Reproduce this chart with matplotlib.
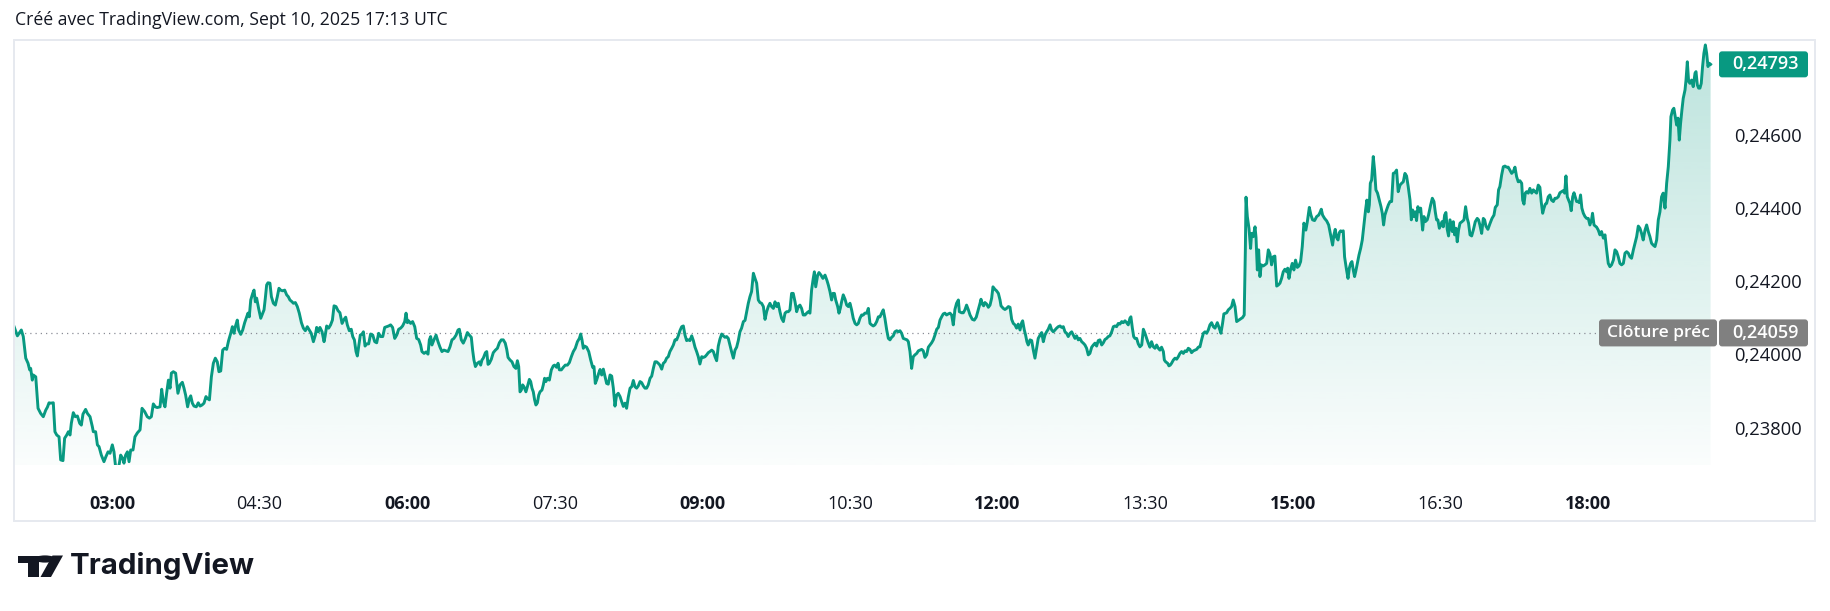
import numpy as np
import matplotlib
matplotlib.use("Agg")
import matplotlib.pyplot as plt
from matplotlib.patches import Rectangle, Polygon, Circle, FancyBboxPatch
from matplotlib.transforms import IdentityTransform
from matplotlib.ticker import FuncFormatter
from matplotlib.colors import to_rgb

plt.rcParams['font.family'] = ['Open Sans', 'DejaVu Sans']

# ---------------- data ----------------
title = "Créé avec TradingView.com, Sept 10, 2025 17:13 UTC"
session_start = "02:00"          # local time of the first bar
prev_close = 0.24059
last_price = 0.24793

# minutes elapsed since session start
minutes = [
 0.3, 2.3, 4.7, 5.9, 7.4, 8.8, 9.8, 10.4, 11.4, 12.0, 13.5, 14.9, 16.5, 18.1, 19.6, 20.6, 21.6, 22.6, 24.2, 25.2,
 26.3, 27.7, 28.7, 30.1, 31.1, 32.4, 33.4, 34.4, 35.2, 36.4, 37.6, 38.9, 40.3, 41.3, 42.3, 43.9, 45.0, 46.6, 48.0, 48.6,
 50.0, 51.1, 52.1, 53.5, 55.1, 56.3, 57.6, 58.8, 60.2, 61.2, 62.2, 63.3, 64.5, 65.3, 66.5, 67.3, 68.3, 69.4, 70.4, 71.4,
 72.8, 74.0, 75.5, 77.1, 78.3, 79.9, 81.5, 82.8, 84.0, 85.2, 86.4, 87.6, 89.3, 90.3, 91.3, 92.3, 93.3, 94.4, 95.4, 96.2,
 97.4, 98.8, 100.2, 101.5, 102.9, 103.9, 104.9, 106.1, 107.2, 108.0, 109.0, 110.0, 111.4, 112.6, 113.7, 114.9, 116.1, 117.3, 118.1, 119.4,
 120.6, 121.8, 123.0, 124.2, 125.2, 126.3, 127.5, 128.7, 129.9, 131.1, 132.4, 133.4, 134.4, 135.2, 136.4, 137.2, 138.5, 139.7, 140.9, 142.1,
 142.9, 143.7, 144.6, 145.8, 146.6, 147.4, 148.2, 149.4, 150.7, 151.9, 152.7, 153.5, 154.3, 155.1, 156.3, 157.2, 158.4, 159.6, 160.8, 161.8,
 162.8, 164.1, 165.3, 166.5, 167.5, 168.5, 169.8, 170.6, 171.8, 173.0, 174.2, 175.5, 176.7, 177.9, 179.1, 180.3, 181.5, 182.8,
 184.0, 184.8, 185.8, 186.8, 188.1, 189.3, 189.9, 190.9, 192.1, 193.3, 194.4, 195.4, 196.6, 197.8, 199.0, 200.3, 201.5, 202.5, 203.5, 204.7,
 205.9, 206.8, 207.8, 208.8, 209.6, 210.4, 211.4, 212.5, 213.3, 214.3, 215.3, 216.5, 217.7, 219.0, 220.2, 221.4, 222.6, 223.8, 225.1, 226.3,
 227.5, 228.7, 229.9, 231.1, 232.4, 233.6, 234.8, 236.0, 237.2, 238.5, 239.3, 240.1, 240.9, 242.1, 243.3, 244.6, 245.8, 247.0, 248.2, 249.0,
 250.3, 251.5, 252.7, 253.5, 254.3, 255.1, 256.4, 257.6, 258.8, 260.0, 261.2, 262.4, 263.7, 264.9, 266.1, 267.3, 268.5, 269.8, 271.0, 271.8,
 273.0, 274.2, 275.5, 276.7, 277.9, 279.1, 279.9, 280.7, 281.6, 282.8, 284.0, 284.8, 285.6, 286.4, 287.7, 288.5, 289.3, 290.1, 291.3, 292.5,
 293.8, 295.0, 296.2, 297.4, 298.6, 299.8, 300.7, 301.5, 302.7, 303.9, 305.1, 306.3, 307.2, 308.0, 308.8, 309.6, 310.4, 311.2, 312.4, 313.3,
 314.5, 315.3, 316.1, 316.9, 317.7, 318.5, 319.4, 320.2, 321.0, 322.2, 323.0, 323.8, 324.6, 325.5, 326.7, 327.9, 329.1, 329.9, 331.1, 332.0,
 332.8, 334.0, 335.2, 336.4, 337.7, 338.9, 340.1, 341.3, 342.5, 343.8, 345.0, 345.8, 346.6, 347.4, 348.2, 349.4, 350.7, 351.9, 353.1, 353.9,
 354.7, 355.5, 356.8, 357.6,
 358.6, 359.6, 360.6, 361.6, 362.6, 363.7, 364.7, 365.7, 366.7, 367.7, 368.7, 369.8, 370.8, 371.8, 372.8, 373.8, 374.8, 375.9, 376.9, 377.9,
 378.9, 379.9, 380.9, 382.0, 383.0, 384.0, 385.0, 386.0, 387.0, 388.1, 389.1, 390.1, 391.1, 392.1, 393.1, 394.1, 395.2, 396.2, 397.2, 398.2,
 399.2, 400.2, 401.3, 402.3, 403.3, 404.3, 405.3, 406.3, 407.4, 408.4, 409.4, 410.4, 411.4, 412.4, 413.5, 414.5, 415.5, 416.5, 417.5, 418.5,
 419.6, 420.6, 421.6, 422.6, 423.6, 424.6, 425.7, 426.7, 427.7, 428.7, 429.7, 430.7, 431.8, 432.8, 433.8, 434.8, 435.8, 436.8, 437.8, 438.9,
 439.9, 440.9, 441.9, 442.9, 443.9, 445.0, 446.0, 447.0, 448.0, 449.0, 450.0, 451.1, 452.1, 453.1, 454.1, 455.1, 456.1, 457.2, 458.2, 459.2,
 460.2, 461.2, 462.2, 463.3, 464.3, 465.3, 466.3, 467.3, 468.3, 469.4, 470.4, 471.4, 472.4, 473.4, 474.4, 475.4, 476.5, 477.5, 478.5, 479.5,
 480.5, 481.5, 482.6, 483.6, 484.6, 485.6, 486.6, 487.6, 488.3, 489.1, 490.3, 491.1, 492.3, 493.5, 494.8, 496.0, 496.8, 497.8, 498.8, 499.6,
 500.5, 501.3, 502.5, 503.3, 504.1, 504.9, 505.9, 507.0, 508.0, 509.0, 510.0, 511.0, 512.0, 513.1, 514.1, 515.1, 516.1, 517.1, 518.1, 519.1,
 520.2, 521.2, 522.2, 523.2, 524.2, 525.2, 526.3, 527.3, 528.3, 529.3, 530.3, 531.3, 532.4, 533.4, 534.4, 535.4, 536.4, 537.4, 538.5, 539.5,
 540.5, 541.5, 542.5,
 544.8, 545.6, 546.6, 547.6, 548.6, 549.6, 550.7, 551.7, 552.7, 553.7, 554.7, 555.7, 556.8, 557.8, 558.8, 559.8, 560.8, 561.8, 562.9, 563.9,
 564.9, 565.9, 566.9, 567.9, 568.9, 570.0, 571.0, 572.0, 573.0, 574.0, 575.0, 576.1, 576.7, 578.1, 579.1, 580.1, 581.1, 582.2, 583.2, 584.6,
 585.8, 587.0, 588.3, 589.3, 589.9, 590.7, 591.5, 592.3, 593.3, 594.4, 595.4, 596.4, 597.2, 598.4, 599.4, 600.5, 601.5, 602.1, 603.5, 604.5,
 605.5, 606.6, 607.6, 608.6, 609.6, 610.6, 611.6, 612.6, 613.7, 614.7, 615.3, 616.3, 617.1, 617.9, 618.7, 619.8, 620.8, 621.8, 622.8, 623.8,
 624.8, 625.9, 626.9, 627.9, 628.9, 629.9, 630.9, 632.0, 633.0, 634.0, 635.0, 636.0, 637.0, 638.1, 639.1, 640.1, 641.1, 642.1, 643.1, 644.2,
 645.2, 646.2, 647.2, 648.2, 649.2, 650.2, 651.3, 652.3, 653.3, 654.3, 655.3, 656.3, 657.4, 658.4, 659.4, 660.4, 661.4, 662.4, 663.5, 664.5,
 665.5, 666.5, 667.5, 668.5, 669.6, 670.6, 671.6, 672.6, 673.6, 674.6, 675.7, 676.7, 677.7, 678.7, 679.7, 680.7, 681.3, 682.2, 683.0, 683.8,
 684.8, 685.8, 686.8, 687.9, 688.9, 689.9, 690.9, 691.9, 692.9, 693.9, 695.0, 696.0, 697.0, 698.0, 699.0, 700.0, 701.1, 701.7, 702.5, 703.7,
 704.5, 705.3, 706.1, 707.2, 708.2, 709.2, 710.2, 711.2, 712.2, 713.3, 714.3, 715.3, 716.3, 717.3, 718.3, 719.4, 720.4, 721.4, 722.4, 723.4,
 724.4, 725.5, 726.5, 727.5, 728.5, 729.5, 730.5, 731.6, 732.6,
 734.0, 735.2, 736.2, 737.2, 738.0, 739.7, 740.7, 741.7, 742.7, 743.7, 744.8, 745.8, 746.8, 747.8, 749.4, 750.4, 751.1, 751.5, 752.3, 753.3,
 754.3, 754.9, 755.9, 757.0, 757.6, 758.4, 759.2, 760.0, 760.8, 762.0, 763.0, 764.1, 765.1, 766.1, 767.1, 768.1, 769.1, 770.2, 771.2, 772.2,
 773.2, 774.2, 775.2, 776.3, 776.9, 777.7, 778.7, 779.7, 780.7, 781.7, 782.8, 783.8, 784.8, 785.8, 786.8, 788.0, 788.9, 790.1, 791.1, 792.1,
 793.3, 794.6, 795.8, 796.6, 797.4, 798.2, 799.4, 800.7, 801.9, 803.1, 804.3, 805.1, 805.9, 806.7, 807.6, 808.4, 809.2, 810.0, 810.8, 811.6,
 812.8, 813.7, 814.5, 815.3, 816.1, 816.9, 817.7, 818.5, 819.4, 820.4, 821.4, 822.4, 823.4, 824.4, 825.2, 826.1, 826.7, 827.3, 828.1, 829.1,
 829.9, 830.7, 831.7, 832.8, 833.8, 834.6, 835.4, 836.2, 837.2, 838.3, 839.3, 840.3, 841.3, 842.3, 843.3, 844.3, 845.4, 846.4, 847.4, 848.4,
 849.4, 850.4, 851.5, 852.3, 853.1, 853.9, 854.7, 855.5, 856.3, 857.2, 858.0, 859.2, 860.0, 860.8, 862.0, 862.8, 864.1, 865.1, 866.1, 866.9,
 867.7, 868.5, 869.4, 870.2, 871.0, 871.8, 872.6, 873.4, 874.2, 875.0, 875.9, 876.7, 877.3, 877.9, 878.7, 879.5, 880.3, 881.1, 882.0, 883.2,
 884.4, 885.4, 886.4, 887.2, 888.1, 889.1, 890.1, 891.3, 892.5, 893.3, 894.1, 895.2, 896.2, 897.0, 897.8, 899.0, 900.2, 901.5, 902.7, 903.5,
 904.7, 905.5, 906.3, 907.4, 908.4, 909.4, 910.4, 911.4, 912.4, 913.5, 914.5, 915.5, 916.5, 917.5, 918.5, 919.6, 920.2, 921.0, 921.8, 922.6,
 923.6, 924.6, 925.7, 926.7, 927.7, 928.7, 929.7, 930.7, 931.5, 932.4, 933.2, 934.0, 934.8, 935.8, 936.8, 937.8, 938.9, 939.9, 940.9, 941.9,
 942.9, 943.9, 945.0, 945.8, 946.6, 947.4, 948.2, 949.0, 949.8, 950.7, 951.5, 952.3, 953.1, 953.9, 954.7, 955.5, 956.3, 957.2, 958.2, 959.2,
 960.2, 961.2, 962.2, 962.8, 963.7, 964.5, 965.3, 966.3, 967.3,
 968.3, 969.4, 970.4, 971.4, 972.4, 973.4, 974.4, 975.5, 976.5, 977.5, 978.5, 979.5, 980.5, 981.6, 982.6, 983.6, 984.6, 985.6, 986.6, 987.7,
 988.7, 989.7, 990.7, 991.7, 992.7, 993.7, 994.8, 995.8, 996.8, 997.8, 998.8, 999.8, 1000.9, 1001.9, 1002.9, 1003.9, 1004.9, 1005.9, 1007.0, 1008.0,
 1009.0, 1010.0, 1010.6, 1011.6, 1012.4, 1013.3, 1014.1, 1014.9, 1015.7, 1016.5, 1017.3, 1018.1, 1019.2, 1019.8, 1020.6, 1021.4, 1022.2, 1023.2, 1024.2, 1025.3,
 1025.9, 1026.7, 1027.5, 1028.3, 1029.1, 1029.9, 1030.7, 1031.6, 1032.4, 1033.2, 1034.0, 1034.8,
]

prices = [
 0.24076, 0.24051, 0.24067, 0.24049, 0.23990, 0.23976, 0.23958, 0.23962, 0.23930, 0.23944, 0.23939, 0.23853, 0.23839, 0.23830, 0.23848, 0.23856, 0.23868, 0.23867, 0.23868, 0.23789,
 0.23780, 0.23775, 0.23712, 0.23710, 0.23771, 0.23780, 0.23789, 0.23780, 0.23812, 0.23841, 0.23830, 0.23832, 0.23812, 0.23807, 0.23837, 0.23850, 0.23839, 0.23830, 0.23803, 0.23789,
 0.23789, 0.23753, 0.23748, 0.23725, 0.23707, 0.23721, 0.23734, 0.23730, 0.23753, 0.23734, 0.23693, 0.23680, 0.23703, 0.23725, 0.23716, 0.23703, 0.23725, 0.23734, 0.23707, 0.23739,
 0.23739, 0.23775, 0.23786, 0.23794, 0.23853, 0.23844, 0.23830, 0.23826, 0.23830, 0.23865, 0.23857, 0.23855, 0.23857, 0.23905, 0.23871, 0.23857, 0.23894, 0.23930, 0.23908, 0.23949,
 0.23953, 0.23949, 0.23894, 0.23917, 0.23924, 0.23908, 0.23889, 0.23857, 0.23880, 0.23887, 0.23867, 0.23859, 0.23857, 0.23868, 0.23859, 0.23862, 0.23867, 0.23885, 0.23880, 0.23876,
 0.23939, 0.23976, 0.23990, 0.23980, 0.23953, 0.23955, 0.24012, 0.24017, 0.24014, 0.24038, 0.24058, 0.24076, 0.24058, 0.24076, 0.24094, 0.24067, 0.24055, 0.24067, 0.24087, 0.24103,
 0.24113, 0.24103, 0.24149, 0.24167, 0.24176, 0.24144, 0.24154, 0.24126, 0.24099, 0.24113, 0.24122, 0.24154, 0.24190, 0.24196, 0.24195, 0.24158, 0.24140, 0.24135, 0.24158, 0.24181,
 0.24176, 0.24174, 0.24176, 0.24163, 0.24158, 0.24149, 0.24144, 0.24140, 0.24142, 0.24131, 0.24113, 0.24087, 0.24072, 0.24065, 0.24076, 0.24067, 0.24058, 0.24035,
 0.24053, 0.24074, 0.24062, 0.24074, 0.24062, 0.24035, 0.24049, 0.24078, 0.24072, 0.24081, 0.24094, 0.24133, 0.24131, 0.24120, 0.24114, 0.24085, 0.24096, 0.24102, 0.24081, 0.24065,
 0.24069, 0.24049, 0.24040, 0.24008, 0.23996, 0.24021, 0.24053, 0.24056, 0.24062, 0.24023, 0.24029, 0.24029, 0.24056, 0.24053, 0.24035, 0.24032, 0.24058, 0.24049, 0.24049, 0.24074,
 0.24076, 0.24078, 0.24081, 0.24074, 0.24044, 0.24053, 0.24069, 0.24072, 0.24078, 0.24090, 0.24113, 0.24087, 0.24092, 0.24085, 0.24090, 0.24076, 0.24044, 0.24041, 0.24026, 0.24008,
 0.24003, 0.24007, 0.24001, 0.24040, 0.24049, 0.24026, 0.24041, 0.24053, 0.24035, 0.24020, 0.24008, 0.24012, 0.24010, 0.24008, 0.24021, 0.24040, 0.24044, 0.24053, 0.24067, 0.24069,
 0.24040, 0.24031, 0.24044, 0.24060, 0.24053, 0.24047, 0.24012, 0.23985, 0.23967, 0.23976, 0.23980, 0.23971, 0.23985, 0.23990, 0.24005, 0.24008, 0.23973, 0.23976, 0.23987, 0.24005,
 0.24012, 0.24017, 0.24032, 0.24040, 0.24040, 0.24031, 0.24014, 0.23992, 0.23985, 0.23980, 0.23967, 0.23962, 0.23983, 0.23967, 0.23898, 0.23903, 0.23917, 0.23912, 0.23898, 0.23912,
 0.23932, 0.23926, 0.23908, 0.23898, 0.23876, 0.23862, 0.23868, 0.23889, 0.23898, 0.23903, 0.23917, 0.23935, 0.23926, 0.23935, 0.23930, 0.23958, 0.23969, 0.23971, 0.23965, 0.23976,
 0.23958, 0.23958, 0.23965, 0.23971, 0.23971, 0.23978, 0.23994, 0.24008, 0.24017, 0.24035, 0.24044, 0.24056, 0.24040, 0.24017, 0.24023, 0.24020, 0.24008, 0.23985, 0.23965, 0.23967,
 0.23921, 0.23930, 0.23949, 0.23959,
 0.23944, 0.23960, 0.23941, 0.23921, 0.23919, 0.23944, 0.23941, 0.23908, 0.23859, 0.23889, 0.23894, 0.23885, 0.23871, 0.23858, 0.23867, 0.23853, 0.23883, 0.23908, 0.23912, 0.23929,
 0.23912, 0.23908, 0.23914, 0.23926, 0.23923, 0.23914, 0.23908, 0.23908, 0.23917, 0.23935, 0.23941, 0.23962, 0.23980, 0.23980, 0.23976, 0.23971, 0.23960, 0.23976, 0.23980, 0.23990,
 0.23994, 0.24008, 0.24017, 0.24026, 0.24040, 0.24040, 0.24051, 0.24065, 0.24076, 0.24078, 0.24053, 0.24038, 0.24040, 0.24038, 0.24051, 0.24038, 0.24020, 0.24008, 0.23994, 0.23974,
 0.23994, 0.23992, 0.23994, 0.23999, 0.24005, 0.24008, 0.24012, 0.24008, 0.23994, 0.23983, 0.24023, 0.24042, 0.24056, 0.24051, 0.24047, 0.24049, 0.24044, 0.24026, 0.24008, 0.23990,
 0.24012, 0.24020, 0.24038, 0.24062, 0.24072, 0.24090, 0.24093, 0.24117, 0.24140, 0.24158, 0.24172, 0.24222, 0.24208, 0.24195, 0.24149, 0.24142, 0.24140, 0.24131, 0.24096, 0.24117,
 0.24131, 0.24140, 0.24131, 0.24126, 0.24144, 0.24131, 0.24140, 0.24117, 0.24099, 0.24090, 0.24113, 0.24117, 0.24117, 0.24122, 0.24167, 0.24167, 0.24144, 0.24117, 0.24131, 0.24135,
 0.24126, 0.24108, 0.24108, 0.24113, 0.24117, 0.24113, 0.24176, 0.24208, 0.24226, 0.24185, 0.24217, 0.24224, 0.24217, 0.24208, 0.24217, 0.24202, 0.24190, 0.24172, 0.24149, 0.24167,
 0.24167, 0.24149, 0.24131, 0.24113, 0.24126, 0.24144, 0.24163, 0.24151, 0.24135, 0.24131, 0.24140, 0.24122, 0.24099, 0.24085, 0.24081, 0.24085, 0.24099, 0.24108, 0.24108, 0.24113,
 0.24113, 0.24126, 0.24085, 0.24081, 0.24078, 0.24081, 0.24090, 0.24103, 0.24103, 0.24113, 0.24122, 0.24099, 0.24067, 0.24044, 0.24040, 0.24047, 0.24051, 0.24062, 0.24065, 0.24062,
 0.24065, 0.24058, 0.24044,
 0.24040, 0.24035, 0.24008, 0.23962, 0.23994, 0.23999, 0.24003, 0.24010, 0.24012, 0.24014, 0.24010, 0.23992, 0.23999, 0.24020, 0.24026, 0.24032, 0.24040, 0.24053, 0.24069, 0.24074,
 0.24094, 0.24103, 0.24111, 0.24113, 0.24108, 0.24111, 0.24113, 0.24108, 0.24081, 0.24123, 0.24140, 0.24149, 0.24117, 0.24114, 0.24114, 0.24122, 0.24135, 0.24122, 0.24108, 0.24096,
 0.24094, 0.24102, 0.24123, 0.24140, 0.24151, 0.24138, 0.24133, 0.24142, 0.24138, 0.24129, 0.24135, 0.24154, 0.24185, 0.24178, 0.24174, 0.24167, 0.24149, 0.24133, 0.24126, 0.24123,
 0.24126, 0.24131, 0.24129, 0.24096, 0.24085, 0.24081, 0.24072, 0.24083, 0.24067, 0.24087, 0.24092, 0.24067, 0.24053, 0.24035, 0.24026, 0.24040, 0.24038, 0.24012, 0.23990, 0.24017,
 0.24044, 0.24053, 0.24060, 0.24035, 0.24053, 0.24062, 0.24069, 0.24081, 0.24067, 0.24062, 0.24067, 0.24072, 0.24076, 0.24078, 0.24074, 0.24076, 0.24062, 0.24058, 0.24049, 0.24058,
 0.24062, 0.24053, 0.24044, 0.24051, 0.24040, 0.24044, 0.24035, 0.24031, 0.24026, 0.24017, 0.23999, 0.24003, 0.24020, 0.24026, 0.24031, 0.24023, 0.24038, 0.24040, 0.24026, 0.24032,
 0.24041, 0.24044, 0.24049, 0.24051, 0.24062, 0.24076, 0.24078, 0.24076, 0.24085, 0.24083, 0.24090, 0.24087, 0.24092, 0.24087, 0.24081, 0.24099, 0.24103, 0.24072, 0.24049, 0.24044,
 0.24044, 0.24029, 0.24021, 0.24026, 0.24069, 0.24058, 0.24044, 0.24031, 0.24020, 0.24035, 0.24021, 0.24017, 0.24026, 0.24017, 0.24012, 0.24020, 0.24008, 0.23985, 0.23980, 0.23976,
 0.23969, 0.23971, 0.23976, 0.23985, 0.23990, 0.23987, 0.23994, 0.24003, 0.24008, 0.24003, 0.24010, 0.24008, 0.24017, 0.24014, 0.24005, 0.24010, 0.24012, 0.24014, 0.24020, 0.24021,
 0.24040, 0.24058, 0.24062, 0.24058, 0.24067, 0.24081, 0.24087, 0.24076, 0.24072,
 0.24087, 0.24072, 0.24058, 0.24085, 0.24111, 0.24114, 0.24122, 0.24126, 0.24131, 0.24149, 0.24131, 0.24090, 0.24093, 0.24096, 0.24101, 0.24108, 0.24286, 0.24430, 0.24377, 0.24345,
 0.24290, 0.24331, 0.24322, 0.24349, 0.24320, 0.24231, 0.24286, 0.24213, 0.24245, 0.24242, 0.24245, 0.24249, 0.24286, 0.24275, 0.24245, 0.24267, 0.24269, 0.24187, 0.24190, 0.24195,
 0.24208, 0.24226, 0.24233, 0.24226, 0.24236, 0.24208, 0.24233, 0.24249, 0.24231, 0.24258, 0.24238, 0.24242, 0.24254, 0.24295, 0.24359, 0.24340, 0.24363, 0.24402, 0.24381, 0.24368,
 0.24366, 0.24377, 0.24381, 0.24388, 0.24397, 0.24381, 0.24372, 0.24365, 0.24354, 0.24327, 0.24299, 0.24327, 0.24342, 0.24320, 0.24313, 0.24333, 0.24338, 0.24336, 0.24338, 0.24267,
 0.24231, 0.24208, 0.24236, 0.24249, 0.24254, 0.24231, 0.24213, 0.24229, 0.24249, 0.24272, 0.24290, 0.24313, 0.24354, 0.24395, 0.24422, 0.24390, 0.24409, 0.24468, 0.24477, 0.24541,
 0.24504, 0.24450, 0.24441, 0.24422, 0.24404, 0.24386, 0.24354, 0.24381, 0.24395, 0.24409, 0.24418, 0.24418, 0.24495, 0.24497, 0.24504, 0.24445, 0.24463, 0.24468, 0.24472, 0.24495,
 0.24488, 0.24459, 0.24422, 0.24368, 0.24395, 0.24377, 0.24390, 0.24366, 0.24404, 0.24390, 0.24400, 0.24340, 0.24377, 0.24363, 0.24368, 0.24381, 0.24409, 0.24427, 0.24418, 0.24390,
 0.24368, 0.24368, 0.24345, 0.24354, 0.24363, 0.24349, 0.24381, 0.24388, 0.24342, 0.24324, 0.24368, 0.24349, 0.24336, 0.24363, 0.24327, 0.24345, 0.24308, 0.24340, 0.24359, 0.24363,
 0.24368, 0.24404, 0.24372, 0.24359, 0.24327, 0.24324, 0.24340, 0.24363, 0.24372, 0.24368, 0.24354, 0.24331, 0.24372, 0.24368, 0.24351, 0.24342, 0.24357, 0.24372, 0.24381, 0.24402,
 0.24409, 0.24450, 0.24459, 0.24491, 0.24513, 0.24515, 0.24512, 0.24512, 0.24504, 0.24495, 0.24500, 0.24512, 0.24486, 0.24472, 0.24475, 0.24468, 0.24422, 0.24411, 0.24441, 0.24445,
 0.24441, 0.24454, 0.24441, 0.24450, 0.24445, 0.24441, 0.24463, 0.24457, 0.24418, 0.24386, 0.24400, 0.24411, 0.24413, 0.24431, 0.24436, 0.24422, 0.24418, 0.24427, 0.24427, 0.24431,
 0.24442, 0.24445, 0.24448, 0.24441, 0.24488, 0.24431, 0.24422, 0.24413, 0.24393, 0.24431, 0.24442, 0.24430, 0.24418, 0.24418, 0.24415, 0.24436, 0.24400, 0.24386, 0.24377, 0.24372,
 0.24372, 0.24354, 0.24368, 0.24386, 0.24354, 0.24351, 0.24348, 0.24340, 0.24327,
 0.24336, 0.24318, 0.24327, 0.24286, 0.24249, 0.24240, 0.24245, 0.24258, 0.24286, 0.24281, 0.24267, 0.24249, 0.24245, 0.24249, 0.24277, 0.24281, 0.24277, 0.24267, 0.24263, 0.24286,
 0.24304, 0.24322, 0.24351, 0.24345, 0.24331, 0.24313, 0.24340, 0.24354, 0.24336, 0.24322, 0.24304, 0.24299, 0.24295, 0.24313, 0.24368, 0.24390, 0.24431, 0.24441, 0.24400, 0.24468,
 0.24513, 0.24586, 0.24650, 0.24668, 0.24673, 0.24648, 0.24627, 0.24646, 0.24586, 0.24632, 0.24668, 0.24700, 0.24723, 0.24750, 0.24800, 0.24746, 0.24741, 0.24750, 0.24732, 0.24769,
 0.24773, 0.24737, 0.24728, 0.24728, 0.24741, 0.24787, 0.24823, 0.24846, 0.24823, 0.24787, 0.24796, 0.24793,
]

y_ticks = [0.238, 0.240, 0.242, 0.244, 0.246]
x_tick_labels = ["03:00", "04:30", "06:00", "07:30", "09:00", "10:30",
                 "12:00", "13:30", "15:00", "16:30", "18:00"]
prev_close_label = "Clôture préc"

# ---------------- style ----------------
GREEN = "#089981"
TEXT = "#131722"
W, H = 1830, 611

fig = plt.figure(figsize=(W / 100, H / 100), dpi=100)
fig.patch.set_facecolor("white")

def fx(px):
    return px / W

def fy(py):
    return 1 - py / H

ax = fig.add_axes([fx(14), fy(465), fx(1717) - fx(14), fy(41) - fy(465)])
ax.set_facecolor("none")
for s in ax.spines.values():
    s.set_visible(False)

t = np.array(minutes)
p = np.array(prices)
x_lo, x_hi = 0.24, 1038.7
y_lo, y_hi = 0.23698, 0.248568

# gradient area under the line
verts = [(t[0], y_lo)] + list(zip(t, p)) + [(t[-1], y_lo)]
poly = Polygon(verts, closed=True, facecolor="none", edgecolor="none")
ax.add_patch(poly)
n = 256
frac = np.linspace(1, 0, n).reshape(-1, 1)
rgba = np.zeros((n, 1, 4))
rgba[..., :3] = to_rgb(GREEN)
rgba[..., 3] = 0.02 + (0.27 - 0.02) * frac
im = ax.imshow(rgba, extent=[t[0], t[-1], y_lo, p.max()], origin="upper",
               aspect="auto", interpolation="bilinear", zorder=1)
im.set_clip_path(poly)

# previous close dotted line
ax.axhline(prev_close, color="#8a8d96", lw=0.9, linestyle=(0, (1, 3.2)), zorder=2)

# price line
ax.plot(t, p, color=GREEN, lw=2.1, solid_joinstyle="round", zorder=3)

ax.set_xlim(x_lo, x_hi)
ax.set_ylim(y_lo, y_hi)

# axes ticks
h0, m0 = map(int, session_start.split(":"))
x_tick_pos = [int(s[:2]) * 60 + int(s[3:]) - (h0 * 60 + m0) for s in x_tick_labels]
ax.set_xticks(x_tick_pos)
ax.set_xticklabels(x_tick_labels)
ax.tick_params(axis="x", length=0, pad=21.5, labelsize=13, labelcolor=TEXT)
for lbl, s in zip(ax.get_xticklabels(), x_tick_labels):
    if s.endswith(":00") and int(s[:2]) % 3 == 0:
        lbl.set_fontweight("bold")

ax.set_yticks(y_ticks)
ax.yaxis.set_major_formatter(FuncFormatter(lambda v, _: f"{v:.5f}".replace(".", ",")))
ax.yaxis.tick_right()
ax.tick_params(axis="y", length=0, pad=12.0, labelsize=13.2, labelcolor=TEXT,
               left=False, labelleft=False, right=False, labelright=True)

# pane border
fig.add_artist(Rectangle((fx(14), fy(521)), fx(1815) - fx(14), fy(40) - fy(521),
                         transform=fig.transFigure, facecolor="none",
                         edgecolor="#e6e9ef", lw=1.4))

# title
fig.text(fx(15), fy(20), title, ha="left", va="center", fontsize=12.7, color=TEXT)

# price labels (display pixel coords, derived from data)
def ydisp(v):
    return ax.transData.transform((0, v))[1]

yl = ydisp(last_price)
fig.add_artist(FancyBboxPatch((1719, yl - 13), 89, 26,
                              boxstyle="round,pad=0,rounding_size=3",
                              transform=IdentityTransform(), facecolor=GREEN,
                              edgecolor="none", zorder=5))
fig.text(1765.5 / W, yl / H, f"{last_price:.5f}".replace(".", ","), ha="center",
         va="center", fontsize=13, color="white", fontweight="semibold", zorder=6)

yc = ydisp(prev_close)
fig.add_artist(FancyBboxPatch((1599, yc - 13.5), 118, 27,
                              boxstyle="round,pad=0,rounding_size=3",
                              transform=IdentityTransform(), facecolor="#808080",
                              edgecolor="none", zorder=5))
fig.add_artist(FancyBboxPatch((1719, yc - 13.5), 89, 27,
                              boxstyle="round,pad=0,rounding_size=3",
                              transform=IdentityTransform(), facecolor="#808080",
                              edgecolor="none", zorder=5))
fig.text(1658 / W, yc / H, prev_close_label, ha="center", va="center",
         fontsize=12.5, color="white", fontweight="semibold", zorder=6)
fig.text(1765.5 / W, yc / H, f"{prev_close:.5f}".replace(".", ","), ha="center",
         va="center", fontsize=13, color="white", fontweight="semibold", zorder=6)

# TradingView logo
def pix(xp, yp):
    return (fx(xp), fy(yp))

logo_col = "#131722"
fig.add_artist(Polygon([pix(18, 555.5), pix(38.5, 555.5), pix(38.5, 577), pix(28, 577),
                        pix(28, 562.5), pix(18, 562.5)], closed=True,
                       transform=fig.transFigure, facecolor=logo_col, edgecolor="none"))
fig.add_artist(Circle(pix(45, 559), 3.6 / H, transform=fig.transFigure,
                      facecolor=logo_col, edgecolor="none"))
fig.add_artist(Polygon([pix(52.5, 555.5), pix(63, 555.5), pix(51, 577), pix(40.5, 577)],
                       closed=True, transform=fig.transFigure,
                       facecolor=logo_col, edgecolor="none"))
fig.text(fx(70), fy(566), "TradingView", ha="left", va="center", fontsize=21.2,
         fontweight="bold", color=logo_col, family=["Inter", "DejaVu Sans"])

fig.savefig("out.png", dpi=100, facecolor="white")
